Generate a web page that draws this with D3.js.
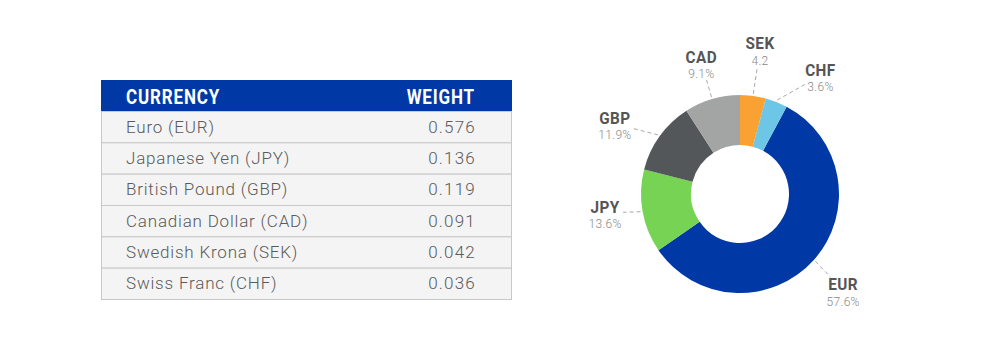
<!DOCTYPE html>
<html>
<head>
<meta charset="utf-8">
<script src="https://cdn.jsdelivr.net/npm/d3@7"></script>
<style>
  body { margin: 0; background: #fff; }
  text { font-family: 'Roboto', 'Liberation Sans', sans-serif; }
</style>
</head>
<body>
<div id="chart"></div>
<script>
// table rows / slices
const names = ['Euro (EUR)', 'Japanese Yen (JPY)', 'British Pound (GBP)', 'Canadian Dollar (CAD)', 'Swedish Krona (SEK)', 'Swiss Franc (CHF)']
const codes = ['EUR', 'JPY', 'GBP', 'CAD', 'SEK', 'CHF']
const weights = [0.576, 0.136, 0.119, 0.091, 0.042, 0.036]
const pctLabels = ['57.6%', '13.6%', '11.9%', '9.1%', '4.2', '3.6%']
const colors = ['#0039a6', '#77d353', '#54575a', '#a3a5a5', '#f9a233', '#6ec6e6']
const headers = ['CURRENCY', 'WEIGHT']

const W = 1000, H = 360
const svg = d3.select('#chart').append('svg')
    .attr('width', W)
    .attr('height', H)

// ---- table ----
const tx0 = 101, tx1 = 512
const rows = d3.scaleBand().domain(names).range([111, 299])
const tbl = svg.append('g')

tbl.append('rect')
    .attr('x', tx0).attr('y', 80)
    .attr('width', tx1 - tx0).attr('height', 31)
    .attr('fill', '#0039a6')

tbl.selectAll('.row')
    .data(names)
  .enter().append('rect')
    .attr('class', 'row')
    .attr('x', tx0 + 0.5)
    .attr('y', d => rows(d) + 0.5)
    .attr('width', tx1 - tx0 - 1)
    .attr('height', rows.bandwidth())
    .attr('fill', '#f4f4f4')
    .attr('stroke', '#c8c8c8')
    .attr('stroke-width', 1)

// condensed bold look: squeeze horizontally
tbl.append('text')
    .attr('transform', 'translate(126,103.5) scale(0.85,1)')
    .attr('fill', '#fff')
    .attr('font-size', 20)
    .attr('font-weight', 'bold')
    .attr('letter-spacing', 1)
    .text(headers[0])
tbl.append('text')
    .attr('transform', 'translate(475,103.5) scale(0.85,1)')
    .attr('text-anchor', 'end')
    .attr('fill', '#fff')
    .attr('font-size', 20)
    .attr('font-weight', 'bold')
    .attr('letter-spacing', 1)
    .text(headers[1])

tbl.selectAll('.name')
    .data(names)
  .enter().append('text')
    .attr('x', 126)
    .attr('y', d => rows(d) + rows.bandwidth() / 2 + 6)
    .attr('fill', '#5a5a5a')
    .attr('font-size', 17)
    .attr('font-weight', 300)
    .attr('letter-spacing', 0.8)
    .text(d => d)

tbl.selectAll('.val')
    .data(weights)
  .enter().append('text')
    .attr('x', 476)
    .attr('y', (d, i) => rows(names[i]) + rows.bandwidth() / 2 + 6)
    .attr('text-anchor', 'end')
    .attr('fill', '#5a5a5a')
    .attr('font-size', 17)
    .attr('font-weight', 300)
    .attr('letter-spacing', 1.2)
    .text(d => d3.format('.3f')(d))

// ---- donut ----
const cx = 740, cy = 194, R = 99, r0 = 49
// SEK + CHF sit before EUR, starting at 12 o'clock
const offset = (weights[4] + weights[5]) * 2 * Math.PI
const pie = d3.pie().sort(null).startAngle(offset).endAngle(offset + 2 * Math.PI)
const arc = d3.arc().innerRadius(r0).outerRadius(R)
const arcs = pie(weights)

const g = svg.append('g').attr('transform', `translate(${cx},${cy})`)
g.selectAll('path')
    .data(arcs)
  .enter().append('path')
    .attr('d', arc)
    .attr('fill', (d, i) => colors[i])

const polar = (a, rr) => [Math.sin(a) * rr, -Math.cos(a) * rr]
// hand nudges so labels don't collide
const nudge = { SEK: [2, -9], CHF: [30, 9], GBP: [-14, 10], JPY: [0, -5], EUR: [1, 5] }
const labR = 137

arcs.forEach((d, i) => {
    const mid = (d.startAngle + d.endAngle) / 2
    const p0 = polar(mid, R + 2)
    let c = polar(mid, labR)
    const nd = nudge[codes[i]]
    if (nd) c = [c[0] + nd[0], c[1] + nd[1]]
    const dx = p0[0] - c[0], dy = p0[1] - c[1]
    const len = Math.hypot(dx, dy)
    const p1 = [c[0] + dx / len * 18, c[1] + dy / len * 18]

    g.append('line')
        .attr('x1', p0[0]).attr('y1', p0[1])
        .attr('x2', p1[0]).attr('y2', p1[1])
        .attr('stroke', '#aaa')
        .attr('stroke-width', 1)
        .attr('stroke-dasharray', '4,3')

    g.append('text')
        .attr('transform', `translate(${c[0]},${c[1]}) scale(0.9,1)`)
        .attr('text-anchor', 'middle')
        .attr('fill', '#555')
        .attr('font-size', 17)
        .attr('font-weight', 'bold')
        .attr('letter-spacing', 0.5)
        .text(codes[i])
    g.append('text')
        .attr('x', c[0]).attr('y', c[1] + 15.5)
        .attr('text-anchor', 'middle')
        .attr('fill', '#888')
        .attr('font-size', 12)
        .attr('font-weight', 300)
        .attr('letter-spacing', 0.3)
        .text(pctLabels[i])
})
</script>
</body>
</html>
